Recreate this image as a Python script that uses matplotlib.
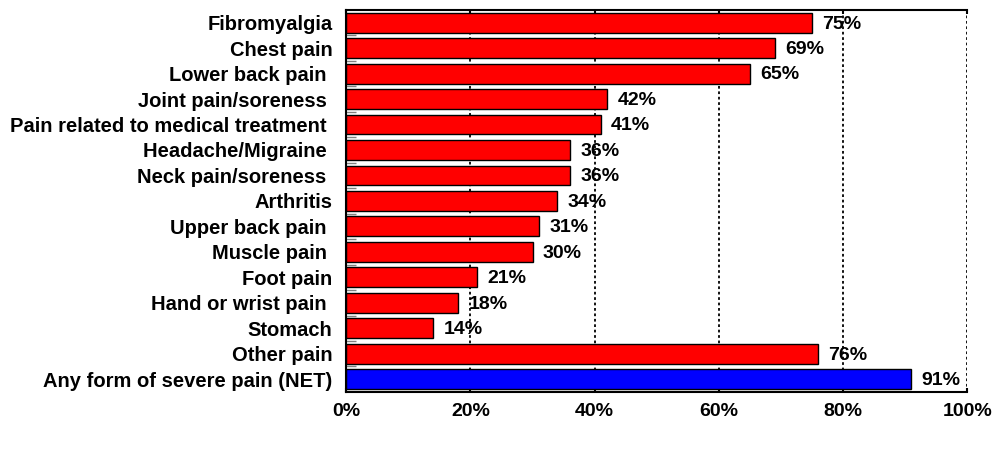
import numpy as np
import matplotlib.pyplot as plt

plt.rcParams['font.family'] = ['Liberation Sans', 'DejaVu Sans']

categories = ["Fibromyalgia", "Chest pain", "Lower back pain ", "Joint pain/soreness ",
              "Pain related to medical treatment ", "Headache/Migraine ", "Neck pain/soreness ",
              "Arthritis", "Upper back pain ", "Muscle pain ", "Foot pain", "Hand or wrist pain ",
              "Stomach", "Other pain", "Any form of severe pain (NET)"]
values = [75, 69, 65, 42, 41, 36, 36, 34, 31, 30, 21, 18, 14, 76, 91]
colors = ["#FF0000"] * 14 + ["#0000FF"]
xticks = [0, 20, 40, 60, 80, 100]
xtick_labels = ["0%", "20%", "40%", "60%", "80%", "100%"]

fig = plt.figure(figsize=(9.92, 4.5), dpi=100)
ax = fig.add_axes([0.349, 0.129, 0.626, 0.849])

y = np.arange(len(categories))
ax.barh(y, values, height=0.78, color=colors, edgecolor='black', linewidth=1, zorder=2)

for yi, v in zip(y, values):
    ax.annotate(f"{v}%", (v, yi), xytext=(7.5, -1), textcoords='offset points',
                ha='left', va='center', fontsize=14, fontweight='bold', zorder=4)

ax.set_xlim(0, 100)
ax.set_ylim(len(categories) - 0.5, -0.5)
ax.set_xticks(xticks)
ax.set_xticklabels(xtick_labels, fontsize=14, fontweight='bold')
ax.set_yticks(y)
ax.set_yticklabels(categories, fontsize=14.5, fontweight='bold')
ax.set_yticks(np.arange(len(categories) - 1) + 0.5, minor=True)

ax.tick_params(axis='y', which='major', length=0, pad=10)
ax.tick_params(axis='y', which='minor', direction='in', length=7, width=1, color='gray')
ax.tick_params(axis='x', which='major', direction='in', length=3, width=1.5, pad=8,
               top=True)

ax.xaxis.grid(True, linestyle=(0, (1.5, 1.5)), color='black', linewidth=1.3, zorder=0)
ax.set_axisbelow(True)
for s in ['left', 'top', 'bottom']:
    ax.spines[s].set_linewidth(1.5)
ax.spines['right'].set_visible(False)

fig.savefig("out.png", dpi=100)
